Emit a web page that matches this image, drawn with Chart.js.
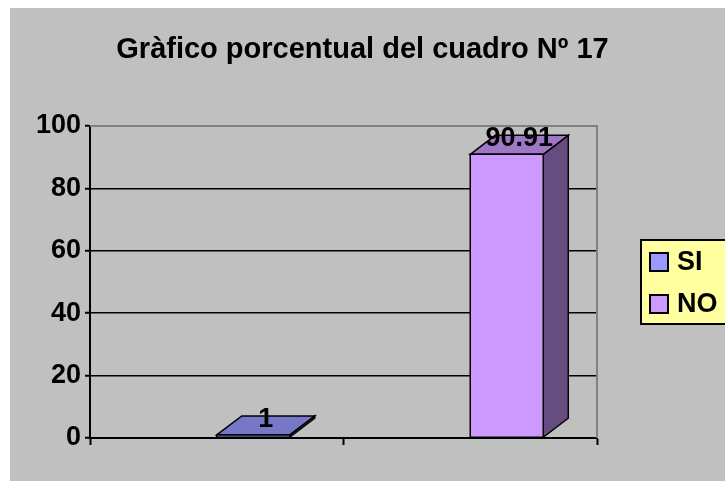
<!DOCTYPE html>
<html>
<head>
<meta charset="utf-8">
<script src="https://cdn.jsdelivr.net/npm/chart.js@4.4.1/dist/chart.umd.min.js"></script>
<style>
  html, body { margin:0; padding:0; background:#fff; }
  #wrap { width:725px; height:481px; position:relative; }
</style>
</head>
<body>
<div id="wrap"><canvas id="chart" width="725" height="481"></canvas></div>
<script>
// data
const TITLE = 'Gràfico porcentual del cuadro Nº 17';
const categories = ['SI', 'NO'];
const values = [1, 90.91];
const yTicks = [0, 20, 40, 60, 80, 100];

const frontColors = ['#9999FF', '#CC99FF'];
const FONT = '"Liberation Sans", Arial, sans-serif';

// darken a hex colour by factor f
function shade(hex, f){
  const n = parseInt(hex.slice(1), 16);
  const r = Math.round(((n >> 16) & 255) * f), g = Math.round(((n >> 8) & 255) * f), b = Math.round((n & 255) * f);
  return `rgb(${r},${g},${b})`;
}

const DX = 25, DY = -19;

const excelLook = {
  id: 'excelLook',
  beforeDraw(chart){
    const c = chart.ctx;
    c.save();
    c.fillStyle = '#C0C0C0';
    c.fillRect(10, 8, chart.width - 10, chart.height - 8);
    // title
    c.fillStyle = '#000';
    c.font = `bold 29px ${FONT}`;
    c.textAlign = 'center';
    c.textBaseline = 'alphabetic';
    c.fillText(TITLE, chart.width / 2, 58);
    c.restore();
  },
  beforeDatasetsDraw(chart){
    // back wall edges (top + right), gray
    const a = chart.chartArea, c = chart.ctx;
    c.save();
    c.strokeStyle = '#808080';
    c.lineWidth = 2;
    c.beginPath();
    c.moveTo(a.left, a.top);
    c.lineTo(a.right, a.top);
    c.lineTo(a.right, a.bottom);
    c.stroke();
    c.restore();
  },
  afterDatasetsDraw(chart){
    const c = chart.ctx;
    const meta = chart.getDatasetMeta(0);
    c.save();
    c.lineWidth = 1.5;
    c.strokeStyle = '#000';
    c.lineJoin = 'miter';
    meta.data.forEach((bar, i) => {
      const w = bar.width;
      const x0 = bar.x, x1 = bar.x + w; // front face starts at category centre
      const yt = bar.y, yb = bar.base;
      const col = frontColors[i];
      // side
      c.fillStyle = shade(col, 0.5);
      c.beginPath();
      c.moveTo(x1, yb); c.lineTo(x1 + DX, yb + DY); c.lineTo(x1 + DX, yt + DY); c.lineTo(x1, yt); c.closePath();
      c.fill(); c.stroke();
      // top
      c.fillStyle = shade(col, 0.78);
      c.beginPath();
      c.moveTo(x0, yt); c.lineTo(x0 + DX, yt + DY); c.lineTo(x1 + DX, yt + DY); c.lineTo(x1, yt); c.closePath();
      c.fill(); c.stroke();
      // front
      c.fillStyle = col;
      c.beginPath();
      c.rect(x0, yt, w, yb - yt);
      c.fill(); c.stroke();
      // value label
      c.fillStyle = '#000';
      c.font = `bold 27px ${FONT}`;
      c.textAlign = 'center';
      c.textBaseline = 'alphabetic';
      c.fillText(String(values[i]), x0 + w / 2 + DX / 2, yt - 8);
    });
    c.restore();
  },
  afterDraw(chart){
    // legend box
    const c = chart.ctx, a = chart.chartArea;
    const lx = a.right + 44, ly = 240, lh = 84;
    c.save();
    c.fillStyle = '#FFFFA0';
    c.strokeStyle = '#000';
    c.lineWidth = 2;
    c.fillRect(lx, ly, chart.width - lx + 5, lh);
    c.strokeRect(lx, ly, chart.width - lx + 5, lh);
    c.font = `bold 27px ${FONT}`;
    c.textAlign = 'left';
    c.textBaseline = 'middle';
    categories.forEach((name, i) => {
      const cy = ly + 22 + i * 42;
      c.fillStyle = frontColors[i];
      c.fillRect(lx + 9, cy - 9, 18, 18);
      c.lineWidth = 2;
      c.strokeRect(lx + 9, cy - 9, 18, 18);
      c.fillStyle = '#000';
      c.fillText(name, lx + 36, cy + 1);
    });
    c.restore();
  }
};

new Chart(document.getElementById('chart'), {
  type: 'bar',
  data: {
    labels: categories,
    datasets: [{ label: 'cuadro 17', data: values, backgroundColor: 'rgba(0,0,0,0)', borderWidth: 0 }]
  },
  options: {
    responsive: false,
    animation: false,
    layout: { padding: { left: 0, top: 126, right: 128, bottom: 0 } },
    plugins: { legend: { display: false }, title: { display: false }, tooltip: { enabled: false } },
    datasets: { bar: { categoryPercentage: 1, barPercentage: 0.288 } },
    scales: {
      x: {
        offset: true,
        grid: { offset: true, drawOnChartArea: false, drawTicks: true, tickLength: 7, tickColor: '#000', tickWidth: 2 },
        border: { display: true, color: '#000', width: 2 },
        ticks: { display: false },
        afterFit(s){ s.height = 43; }
      },
      y: {
        min: 0, max: 100,
        afterBuildTicks(s){ s.ticks = yTicks.map(v => ({ value: v })); },
        grid: {
          color: ctx => ctx.tick && ctx.tick.value === 100 ? 'rgba(0,0,0,0)' : '#000',
          lineWidth: 1.5, tickLength: 5, tickColor: '#000', tickWidth: 2
        },
        border: { display: true, color: '#000', width: 2 },
        ticks: { color: '#000', font: { family: FONT, size: 27, weight: 'bold' }, padding: 4 },
        afterFit(s){ s.width = 90; }
      }
    }
  },
  plugins: [excelLook]
});
</script>
</body>
</html>
